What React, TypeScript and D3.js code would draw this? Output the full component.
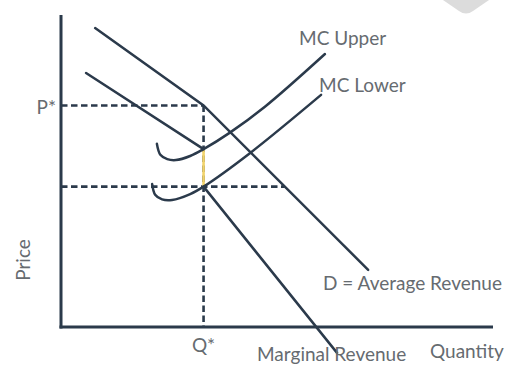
import React from "react";
import * as d3 from "d3";

// Kinked-demand oligopoly diagram (price vs quantity), in arbitrary units 0–100.
const qStar = 33;
const pStar = 71;
const mcAtKink = 45;
const mrGapTop = 57;

// Average revenue (demand) curve with a kink at (Q*, P*)
const avgRevenue: [number, number][] = [
  [7.9, 95.8],
  [qStar, pStar],
  [71.1, 18.3],
];

// Marginal revenue: two pieces separated by the vertical gap at Q*
const mrUpper: [number, number][] = [
  [5.8, 81.4],
  [qStar, mrGapTop],
];
const mrLower: [number, number][] = [
  [qStar, mcAtKink],
  [63.9, -8.3],
];

// Marginal cost curves
const mcUpper: [number, number][] = [
  [22.2, 58.7],
  [23.0, 55.2],
  [24.6, 53.8],
  [26.6, 53.5],
  [29.9, 54.8],
  [qStar, mrGapTop],
  [39.1, 62.3],
  [47.2, 70.6],
  [61.1, 87.5],
];
const mcLower: [number, number][] = [
  [21.1, 45.8],
  [21.8, 42.4],
  [23.4, 40.9],
  [25.7, 40.7],
  [29.9, 42.6],
  [qStar, mcAtKink],
  [43.8, 55.8],
  [60.2, 74.4],
];

const W = 507;
const H = 366;
const INK = "#2b3a4b";
const TEXT = "#666b70";
const FONT = "Lato, 'Open Sans', sans-serif";

export default function App() {
  const x = d3.scaleLinear().domain([0, 100]).range([61, 493]);
  const y = d3.scaleLinear().domain([0, 100]).range([327, 15]);

  const straight = d3
    .line<[number, number]>()
    .x((d) => x(d[0]))
    .y((d) => y(d[1]));
  const smooth = d3
    .line<[number, number]>()
    .x((d) => x(d[0]))
    .y((d) => y(d[1]))
    .curve(d3.curveCatmullRom.alpha(0.5));

  // Where the lower (MC) dashed line meets the demand curve
  const [ka, kb] = [avgRevenue[1], avgRevenue[2]];
  const qAtMc = ka[0] + ((mcAtKink - ka[1]) / (kb[1] - ka[1])) * (kb[0] - ka[0]);

  const dash = "6.5 3.5";

  return (
    <svg
      width={W}
      height={H}
      style={{ position: "absolute", left: 0, top: 0, background: "#fff" }}
    >
      {/* corner mark */}
      <path
        d="M443,0 L489,0 L473,11 Q466,16 459,11 Z"
        fill="#dcdcdc"
      />

      {/* dashed guides */}
      <g stroke={INK} strokeWidth={2.6} strokeDasharray={dash} fill="none">
        <line x1={x(0)} x2={x(qStar)} y1={y(pStar)} y2={y(pStar)} />
        <line x1={x(qStar)} x2={x(qStar)} y1={y(pStar)} y2={y(0)} />
        <line x1={x(0)} x2={x(qAtMc)} y1={y(mcAtKink)} y2={y(mcAtKink)} />
      </g>

      {/* MR discontinuity */}
      <line
        x1={x(qStar)}
        x2={x(qStar)}
        y1={y(mrGapTop)}
        y2={y(mcAtKink)}
        stroke="#f2d36b"
        strokeWidth={2.6}
      />

      <g stroke={INK} strokeWidth={2.5} fill="none" strokeLinecap="round">
        <path d={straight(avgRevenue) ?? ""} />
        <path d={straight(mrUpper) ?? ""} />
        <path d={straight(mrLower) ?? ""} />
        <path d={smooth(mcUpper) ?? ""} />
        <path d={smooth(mcLower) ?? ""} />
      </g>

      {/* axes */}
      <g stroke={INK} strokeWidth={3} fill="none">
        <line x1={x(0)} x2={x(0)} y1={y(100)} y2={y(0) + 1.5} />
        <line x1={x(0) - 1.5} x2={x(100)} y1={y(0)} y2={y(0)} />
      </g>

      <g fill={TEXT} fontFamily={FONT} fontSize={19}>
        <text x={299} y={45}>MC Upper</text>
        <text x={319} y={92}>MC Lower</text>
        <text x={323} y={290}>D = Average Revenue</text>
        <text x={257} y={361}>Marginal Revenue</text>
        <text x={430} y={358}>Quantity</text>
        <text x={56} y={114} textAnchor="end">P*</text>
        <text x={x(qStar)} y={352} textAnchor="middle">Q*</text>
        <text transform="translate(30,260) rotate(-90)" textAnchor="middle">
          Price
        </text>
      </g>
    </svg>
  );
}
